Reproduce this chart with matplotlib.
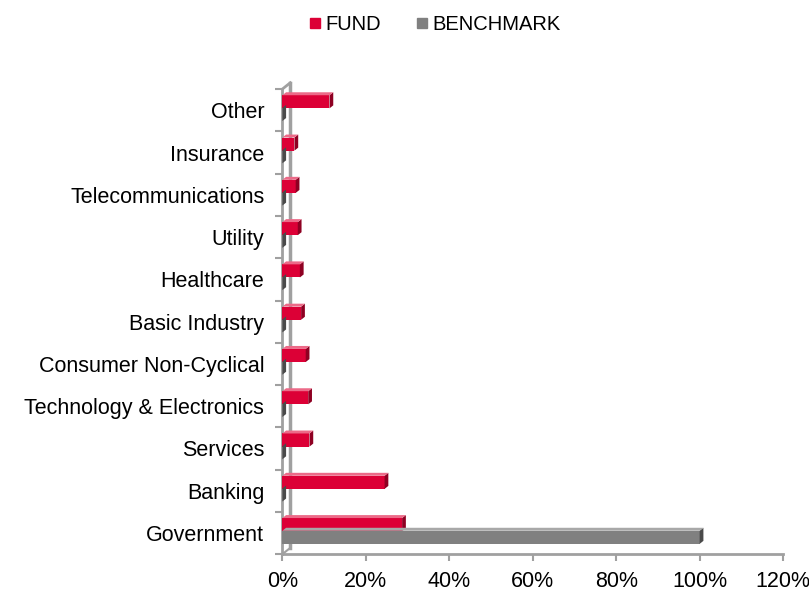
import numpy as np
import matplotlib.pyplot as plt
from matplotlib.lines import Line2D
from matplotlib.patches import Polygon

plt.rcParams['font.family'] = ['Liberation Sans', 'DejaVu Sans']

sectors = ['Government', 'Banking', 'Services', 'Technology & Electronics',
           'Consumer Non-Cyclical', 'Basic Industry', 'Healthcare', 'Utility',
           'Telecommunications', 'Insurance', 'Other']
fund = [28.7, 24.5, 6.5, 6.2, 5.6, 4.5, 4.2, 3.7, 3.2, 2.9, 11.3]
benchmark = [100.0, 0, 0, 0, 0, 0, 0, 0, 0, 0, 0]

FUND_RED = '#dc0036'
FUND_SIDE = '#8e0022'
FUND_TOP = '#ec6a88'
BENCH_GREY = '#808080'
BENCH_SIDE = '#4a4a4a'
BENCH_TOP = '#a8a8a8'


def bar3d(ax, y, vals, h, face, side, top, dx=0.9, dy=0.07):
    # flat bar plus a darker end face to mimic the Excel 3D look
    ax.barh(y, vals, height=h, color=face, edgecolor='none', zorder=3)
    for yi, v in zip(y, vals):
        end = [(v, yi - h / 2), (v + dx, yi - h / 2 + dy),
               (v + dx, yi + h / 2 + dy), (v, yi + h / 2)]
        ax.add_patch(Polygon(end, closed=True, color=side, lw=0, zorder=3))
        lid = [(0, yi + h / 2), (dx, yi + h / 2 + dy),
               (v + dx, yi + h / 2 + dy), (v, yi + h / 2)]
        ax.add_patch(Polygon(lid, closed=True, color=top, lw=0, zorder=3))


fig = plt.figure(figsize=(8.09, 5.94), dpi=100)
ax = fig.add_axes([0.349, 0.067, 0.619, 0.783])

y = np.arange(len(sectors))
h = 0.31
bar3d(ax, y + 0.2, fund, h, FUND_RED, FUND_SIDE, FUND_TOP)
bar3d(ax, y - 0.1, benchmark, h, BENCH_GREY, BENCH_SIDE, BENCH_TOP)

ax.set_xlim(0, 120)
ax.set_ylim(-0.5, len(sectors) - 0.5)
ax.set_xticks(np.arange(0, 121, 20))
ax.set_xticklabels([f'{v}%' for v in range(0, 121, 20)], fontsize=15.5)

ax.set_yticks(np.arange(-0.5, len(sectors), 1.0))
ax.set_yticklabels([])
ax.set_yticks(y, minor=True)
ax.set_yticklabels(sectors, minor=True, fontsize=15.5)
ax.tick_params(axis='y', which='minor', length=0, pad=13)
ax.tick_params(axis='y', which='major', length=5, color='#a0a0a0', width=1.5)
ax.tick_params(axis='x', length=5, color='#a0a0a0', width=1.5, pad=7)

for s in ['top', 'right']:
    ax.spines[s].set_visible(False)
for s in ['left', 'bottom']:
    ax.spines[s].set_color('#a0a0a0')
    ax.spines[s].set_linewidth(2)

# back wall edge of the 3D frame
ax.plot([1.9, 1.9], [-0.35, len(sectors) - 0.35], color='#a0a0a0', lw=2.5,
        zorder=2, clip_on=False)
ax.plot([0, 1.9], [len(sectors) - 0.5, len(sectors) - 0.35], color='#a0a0a0',
        lw=2, zorder=2, clip_on=False)
ax.plot([0, 1.9], [-0.5, -0.35], color='#a0a0a0', lw=1.5, zorder=2, clip_on=False)

handles = [Line2D([], [], marker='s', ls='none', color=FUND_RED, markersize=7.5),
           Line2D([], [], marker='s', ls='none', color=BENCH_GREY, markersize=7.5)]
fig.legend(handles, ['FUND', 'BENCHMARK'], loc='upper center',
           bbox_to_anchor=(0.535, 1.005), ncol=2, frameon=False, fontsize=14.5,
           handletextpad=0.05, columnspacing=1.5, handlelength=1.0)

fig.savefig('out.png', dpi=100)
